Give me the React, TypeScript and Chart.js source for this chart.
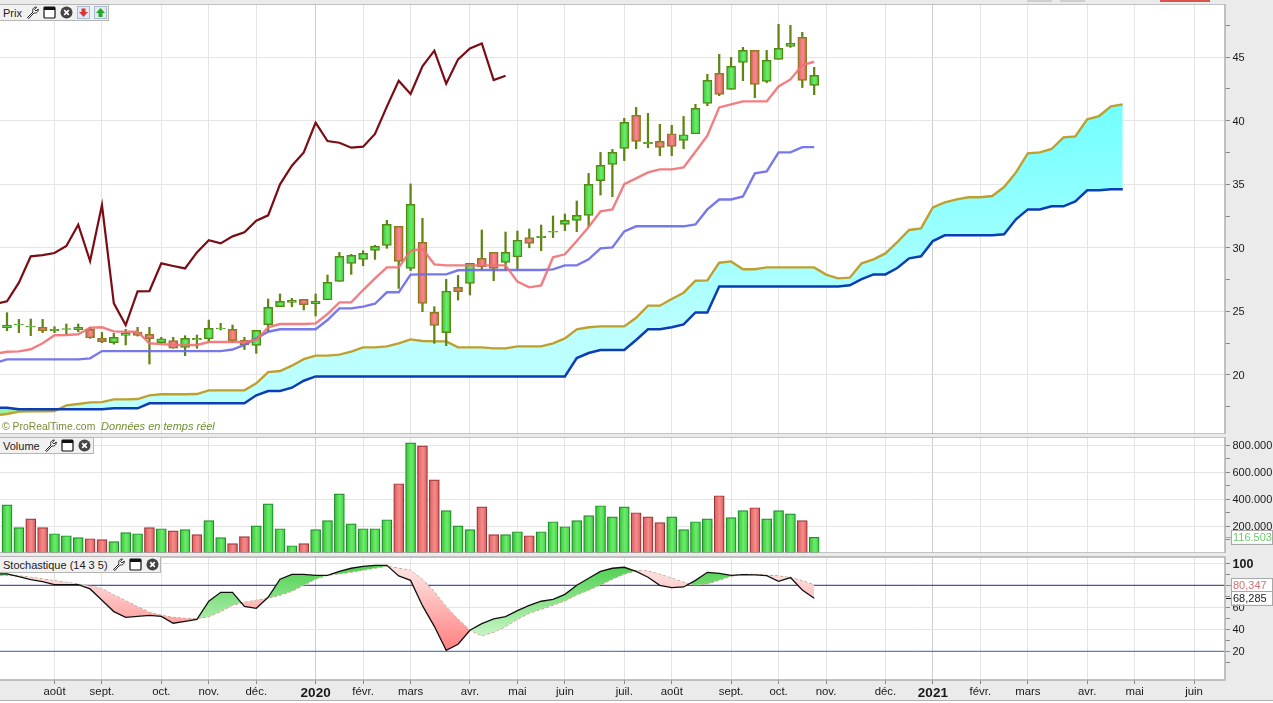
import React, { useEffect, useRef } from "react";
import { Chart, registerables } from "chart.js";

Chart.register(...registerables);

// Week index 0 is the first fully visible candle. One week per entry.
const candleOpen = [23.72,23.93,23.77,23.75,23.48,23.59,23.56,23.59,22.88,22.54,23.12,23.38,23.19,22.54,22.70,22.17,22.77,22.85,23.62,23.59,22.72,22.33,23.96,25.37,25.71,25.95,25.61,25.92,27.36,28.78,29.09,29.80,30.19,31.69,28.38,30.43,24.92,23.33,26.89,27.2,29.17,29.64,28.86,29.3,30.8,30.8,31.22,31.84,32.16,32.55,35.28,36.56,37.82,40.41,38.19,38.37,38.97,38.45,38.97,41.36,43.72,42.46,44.58,45.52,43.09,44.82,45.84,46.55,42.77];
const candleClose = [23.93,24.01,23.85,23.48,23.59,23.64,23.75,22.93,22.62,22.96,23.27,23.12,22.85,22.85,22.10,22.88,22.88,23.67,23.69,22.70,22.36,23.51,25.32,25.79,25.89,25.53,25.79,27.28,29.33,29.41,29.56,30.11,31.84,28.93,33.42,25.63,23.90,26.58,26.55,28.78,28.52,28.38,29.64,30.59,30.35,30.9,31.29,32.16,32.55,34.99,36.48,37.5,39.86,38.37,38.29,37.9,37.98,38.89,40.96,43.17,42.06,44.27,45.52,42.85,44.74,45.68,46.07,43.17,43.56];
const candleHigh = [24.90,24.37,24.40,24.37,23.80,24.01,24.01,23.75,23.35,23.27,23.59,23.75,23.75,22.96,22.96,23.09,23.14,24.32,24.06,23.93,22.96,23.51,25.97,26.37,26.03,25.95,26.37,27.86,29.64,29.48,29.77,30.2,32.16,31.69,35.02,32.32,25.37,27.52,27.83,28.78,31.40,29.64,31.24,31.32,31.48,31.79,32.5,32.66,33.68,35.85,37.5,37.74,40.18,41.04,40.57,39.71,39.63,40.33,41.28,43.64,45.21,44.97,45.76,45.52,45.52,47.57,47.49,46.94,44.19];
const candleLow = [23.48,23.33,23.09,23.33,23.33,23.14,23.40,22.88,22.54,22.43,22.36,23.06,20.86,22.49,22.10,21.52,22.10,22.62,23.54,22.54,22.0,21.70,23.40,25.37,25.37,25.11,24.64,25.92,27.36,27.91,28.59,29.09,29.96,26.81,28.2,24.98,22.49,22.30,25.89,26.29,28.25,27.41,28.25,28.25,30.0,29.77,30.8,31.35,31.27,31.66,34.15,34.02,36.85,37.79,37.87,37.24,37.24,37.79,38.97,41.17,41.96,42.46,43.14,41.8,42.98,44.82,45.76,42.6,42.04];

// The following line series start one week earlier (week -1), clipped by the left edge.
const tenkan = [21.65,21.83,21.86,22.02,22.49,23.12,23.14,23.20,23.72,23.75,23.43,23.40,23.40,22.49,22.43,22.38,22.36,22.36,22.59,22.59,22.59,22.59,22.75,23.75,24.01,24.01,24.01,24.06,24.79,25.71,25.71,26.68,27.6,28.46,28.46,29.77,29.93,28.7,28.62,28.62,28.62,28.62,28.62,28.62,27.34,26.89,27.05,29.25,29.49,30.53,31.64,32.87,33.02,35.0,35.46,35.93,36.17,36.17,36.32,37.56,38.81,41.04,41.28,41.51,41.51,41.51,42.69,43.24,44.37,44.63];
const kijun = [20.95,21.23,21.23,21.23,21.23,21.23,21.23,21.23,21.31,21.88,21.88,21.88,21.88,21.88,21.88,21.88,21.88,21.88,21.88,21.88,22.0,22.36,22.88,23.40,23.6,23.6,23.6,23.6,24.32,25.24,25.24,25.37,25.6,26.5,26.5,27.89,27.91,27.91,27.91,28.23,28.25,28.25,28.25,28.25,28.25,28.25,28.25,28.3,28.62,28.62,29.09,29.96,30.03,31.29,31.69,31.69,31.69,31.69,31.69,31.84,33.02,33.8,33.8,34.04,35.85,36.0,37.5,37.5,37.92,37.92];
const chikou = [25.58,25.79,27.26,29.33,29.43,29.59,30.14,31.82,28.96,33.36,25.63,23.93,26.57,26.6,28.78,28.57,28.38,29.64,30.59,30.35,30.9,31.22,32.13,32.55,34.99,36.45,37.5,39.84,38.39,38.26,37.87,37.95,38.95,41.1,43.14,42.09,44.27,45.5,42.9,44.82,45.68,46.07,43.19,43.53];
const senkouA = [16.83,16.93,17.12,17.14,17.14,17.17,17.61,17.72,17.85,17.87,18.08,18.08,18.11,18.4,18.48,18.48,18.48,18.5,18.79,18.79,18.79,18.79,19.34,20.23,20.31,20.73,21.25,21.52,21.52,21.6,21.83,22.17,22.17,22.25,22.49,22.8,22.67,22.64,22.64,22.17,22.17,22.17,22.09,22.09,22.25,22.25,22.25,22.49,22.88,23.59,23.75,23.82,23.82,23.82,24.5,25.45,25.45,25.97,26.47,27.41,27.44,28.83,28.93,28.31,28.31,28.46,28.46,28.46,28.46,28.46,27.89,27.6,27.65,28.78,29.09,29.56,30.45,31.4,31.53,33.18,33.57,33.81,33.97,33.97,34.07,34.78,35.93,37.43,37.5,37.77,38.68,38.76,40.1,40.36,41.12,41.28];
const senkouB = [17.43,17.43,17.3,17.3,17.3,17.3,17.3,17.3,17.3,17.3,17.38,17.38,17.38,17.77,17.77,17.77,17.77,17.77,17.77,17.77,17.77,17.77,18.4,18.74,18.74,19.0,19.55,19.89,19.89,19.89,19.89,19.89,19.89,19.89,19.89,19.89,19.89,19.89,19.89,19.89,19.89,19.89,19.89,19.89,19.89,19.89,19.89,19.89,19.89,21.33,21.73,21.96,21.96,21.96,22.75,23.59,23.59,23.75,23.98,24.92,24.92,26.95,26.95,26.95,26.95,26.95,26.95,26.95,26.95,26.95,26.95,26.95,27.05,27.54,27.91,27.91,28.41,29.17,29.33,30.53,30.98,30.98,30.98,30.98,30.98,31.06,32.24,33.02,33.02,33.26,33.26,33.65,34.52,34.52,34.6,34.6];

const volume = [358000,188000,254000,188000,143000,128000,114000,106000,99000,84000,151000,143000,188000,180000,165000,173000,136000,240000,114000,69000,121000,202000,365000,180000,54000,69000,173000,240000,439000,217000,180000,180000,247000,514000,817000,795000,543000,314000,202000,173000,343000,136000,136000,158000,128000,158000,232000,195000,240000,277000,351000,269000,343000,299000,269000,225000,269000,173000,232000,254000,425000,262000,314000,336000,254000,314000,291000,240000,116503];
const volumeDown = [2,3,7,8,12,14,16,19,20,25,33,35,36,40,41,44,53,54,55,60,63,67];

// Stochastic series also start at week -1.
const stochK = [90.6,90.3,87.9,85.2,83.3,80.6,80.6,80.6,76.7,66.4,56.1,50.9,51.8,52.7,51.8,45.5,47.3,49.1,65.5,73.6,73.6,60.9,59.1,69.1,85.5,90,90,89.1,89.1,92.7,95.5,97.3,98.2,98.2,88.5,84.5,61.5,42.7,20.9,26.4,39.1,45.2,49.4,51.5,57,61.8,65.5,67.3,71.8,80,86.4,92.7,95.5,96.4,92.7,87.3,80,77.9,78.5,84.5,91.8,90.9,89.1,89.7,89.4,88.8,83.6,87,75.8,68.285];
const stochD = [88.6,89,88.5,87.3,85.8,84.2,82.7,81.2,79.4,77,71.2,66,60.6,55.5,52.7,50.9,50,49.7,51.5,56.1,61.8,64.5,66.4,68.2,70.9,74.5,80,85.5,89.1,90.3,91.8,93.6,95.5,97.3,95.5,93.6,85.5,74.2,60.6,49.4,39.1,34.2,37.3,42.4,49.1,54.5,58.2,61.8,65.8,71.2,75.5,80.3,85.5,90,93.3,93,90,86.4,82.7,80,81.2,84.5,88.2,90,90,89.1,88.5,87,84.2,80.347];
const stochLevels = [80, 20];

const tickWeeks = [4,8,13,17,21,26,30,34,39,43,47,52,56,61,65,69,74,78,82,86,91,95,100];
const tickLabels = ["août","sept.","oct.","nov.","déc.","2020","févr.","mars","avr.","mai","juin","juil.","août","sept.","oct.","nov.","déc.","2021","févr.","mars","avr.","mai","juin"];
const yearWeeks = [26, 78];

const priceMajor = [20,25,30,35,40,45];
const priceMinor = [17.5,22.5,27.5,32.5,37.5,42.5,47.5];
const volumeMajor = [200000,400000,600000,800000];
const volumeMinor = [100000,300000,500000,700000];
const stochMajor = [20,40,60,100];
const stochMinor = [10,30,50,70,90];

const FONT = '"Liberation Sans", Arial, sans-serif';
const X_MIN = -0.59, X_MAX = 102.61;
const GREEN_STOPS = ["#36c436", "#6cec6c", "#40d040"];
const RED_STOPS = ["#dc5c5c", "#f68c8c", "#d85a5a"];

const series = (arr: number[], first = -1) => arr.map((y, i) => ({ x: i + first, y }));

const hGrad = (pick: (i: number) => string[], w: number) => (ctx: any) => {
  if (ctx.type !== "data" || !ctx.raw) return "#888888";
  const stops = pick(ctx.dataIndex);
  const px = ctx.chart.scales.x.getPixelForValue(ctx.raw.x);
  if (!Number.isFinite(px)) return stops[1];
  const g = ctx.chart.ctx.createLinearGradient(px - w / 2, 0, px + w / 2, 0);
  g.addColorStop(0, stops[0]);
  g.addColorStop(0.55, stops[1]);
  g.addColorStop(1, stops[2]);
  return g;
};

const xScale = (showTicks: boolean) => ({
  type: "linear",
  min: X_MIN,
  max: X_MAX,
  offset: false,
  afterBuildTicks: (s: any) => { s.ticks = tickWeeks.map((value) => ({ value })); },
  afterFit: (s: any) => { s.height = showTicks ? 21 : 0; s.paddingLeft = 0; s.paddingRight = 0; },
  border: { display: false },
  grid: {
    offset: false,
    color: (c: any) => (yearWeeks.includes(c.tick?.value) ? "#cdcdcd" : "#e5e5e5"),
    tickColor: "#8a8a8a",
    drawTicks: showTicks,
    tickLength: 4,
  },
  ticks: {
    display: showTicks,
    autoSkip: false,
    maxRotation: 0,
    padding: 1,
    color: "#1a1a1a",
    font: (c: any) => (yearWeeks.includes(c.tick?.value)
      ? { family: FONT, size: 13.5, weight: "bold" }
      : { family: FONT, size: 11.4 }),
    callback: (_v: any, i: number) => tickLabels[i],
  },
});

const yScale = (min: number, max: number, major: number[], minor: number[], fmt: (v: number) => string, boldTop?: number) => ({
  type: "linear",
  position: "right",
  min,
  max,
  afterBuildTicks: (s: any) => { s.ticks = [...major, ...minor].sort((a, b) => a - b).map((value) => ({ value })); },
  afterFit: (s: any) => { s.width = 48; s.paddingTop = 0; s.paddingBottom = 0; },
  border: { display: false },
  grid: {
    color: (c: any) => (major.includes(c.tick?.value) ? "#e5e5e5" : "rgba(0,0,0,0)"),
    tickColor: "#8a8a8a",
    tickLength: 5,
  },
  ticks: {
    autoSkip: false,
    padding: 2.5,
    labelOffset: 1,
    color: "#1a1a1a",
    font: (c: any) => (c.tick?.value === boldTop
      ? { family: FONT, size: 12.5, weight: "bold" }
      : { family: FONT, size: 11 }),
    callback: (v: number) => (major.includes(v) ? fmt(v) : ""),
  },
});

const framePlugin = {
  id: "frame",
  beforeDraw(chart: any) {
    const { ctx, chartArea: a } = chart;
    ctx.save();
    ctx.fillStyle = "#ffffff";
    ctx.fillRect(a.left, a.top, a.right - a.left, a.bottom - a.top);
    ctx.restore();
  },
  afterDraw(chart: any) {
    const { ctx, chartArea: a } = chart;
    ctx.save();
    ctx.strokeStyle = "#b0b0b0";
    ctx.lineWidth = 1.5;
    ctx.beginPath();
    ctx.moveTo(a.left, a.top);
    ctx.lineTo(a.right, a.top);
    ctx.lineTo(a.right, a.bottom);
    ctx.lineTo(a.left, a.bottom);
    ctx.stroke();
    ctx.restore();
  },
};

const tagPlugin = (tags: { value: number; text: string; color: string }[]) => ({
  id: "tags",
  afterDraw(chart: any) {
    const { ctx, chartArea: a, scales } = chart;
    ctx.save();
    ctx.font = `11px ${FONT}`;
    ctx.textBaseline = "middle";
    for (const t of tags) {
      const y = Math.round(scales.y.getPixelForValue(t.value));
      ctx.strokeStyle = t.color;
      ctx.lineWidth = 1;
      ctx.beginPath();
      ctx.moveTo(a.right + 1, y + 0.5);
      ctx.lineTo(a.right + 6, y + 0.5);
      ctx.stroke();
      ctx.fillStyle = "#ffffff";
      ctx.fillRect(a.right + 6, y - 6.5, 41, 13);
      ctx.strokeStyle = "#a8a8a8";
      ctx.strokeRect(a.right + 6.5, y - 6.5, 41, 14);
      ctx.fillStyle = t.color;
      ctx.fillText(t.text, a.right + 8, y + 1);
    }
    ctx.restore();
  },
});

const baseOptions = (x: any, y: any, padTop = 0) => ({
  responsive: false,
  animation: false,
  devicePixelRatio: 1,
  layout: { autoPadding: false, padding: { top: padTop, left: 0, right: 0, bottom: 0 } },
  plugins: { legend: { display: false }, tooltip: { enabled: false } },
  scales: { x, y },
});

const line = (label: string, data: any[], color: string, width: number, order: number, extra: any = {}) => ({
  type: "line",
  label,
  data,
  borderColor: color,
  borderWidth: width,
  pointRadius: 0,
  tension: 0,
  fill: false,
  order,
  ...extra,
});

function Icon({ kind }: { kind: string }) {
  const common = { width: 13, height: 13, viewBox: "0 0 13 13", style: { marginLeft: 4, flex: "none" } };
  if (kind === "wrench")
    return (
      <svg {...common}>
        <path d="M1.5 11.5 L7 6 C6 3.5 7.5 1 10.5 1 L8.5 3.5 L10 5 L12.2 3 C12.5 6 10 7.8 8 6.8 L2.8 12.5 Z" fill="#fff" stroke="#222" strokeWidth="1" />
      </svg>
    );
  if (kind === "window")
    return (
      <svg {...common}>
        <rect x="1" y="1" width="11" height="11" rx="1" fill="#fff" stroke="#111" strokeWidth="1.2" />
        <rect x="1" y="1" width="11" height="3" fill="#111" />
      </svg>
    );
  if (kind === "close")
    return (
      <svg {...common}>
        <circle cx="6.5" cy="6.5" r="6" fill="#444" />
        <path d="M4.2 4.2 L8.8 8.8 M8.8 4.2 L4.2 8.8" stroke="#fff" strokeWidth="1.7" />
      </svg>
    );
  const color = kind === "down" ? "#d8383c" : "#2aa52a";
  const arrow = kind === "down" ? "M4.5 2.5 H8.5 V6 H11 L6.5 11 L2 6 H4.5 Z" : "M6.5 2 L11 7 H8.5 V11 H4.5 V7 H2 Z";
  return (
    <svg {...common}>
      <rect x="0.5" y="0.5" width="12" height="12" fill="#dfeaf5" stroke="#a9bccf" />
      <path d={arrow} fill={color} />
    </svg>
  );
}

function Header({ top, width, label, icons }: { top: number; width: number; label: string; icons: string[] }) {
  return (
    <div
      style={{
        position: "absolute", left: 0, top, width, height: 17, boxSizing: "border-box",
        background: "#f1f1f1", border: "1px solid #b5b5b5", borderLeft: "none",
        display: "flex", alignItems: "center", paddingLeft: 3,
        font: `11px ${FONT}`, color: "#222", whiteSpace: "nowrap",
      }}
    >
      <span>{label}</span>
      {icons.map((k, i) => <Icon key={i} kind={k} />)}
    </div>
  );
}

export default function App() {
  const priceRef = useRef<HTMLCanvasElement>(null);
  const volumeRef = useRef<HTMLCanvasElement>(null);
  const stochRef = useRef<HTMLCanvasElement>(null);

  useEffect(() => {
    const pc = priceRef.current!.getContext("2d")!;
    const cloud = pc.createLinearGradient(0, 96, 0, 330);
    cloud.addColorStop(0, "#70ffff");
    cloud.addColorStop(1, "#bcffff");
    const isDown = (i: number) => candleClose[i] < candleOpen[i];

    const price = new Chart(priceRef.current!, {
      type: "bar",
      data: {
        datasets: [
          line("Senkou B", series(senkouB), "#0b3db5", 2.5, 7),
          line("Senkou A", series(senkouA), "#bf9f2e", 2.4, 8, {
            fill: { target: 0, above: cloud, below: "#9cf09c" },
          }),
          {
            type: "bar", label: "Range", order: 6, grouped: false, barThickness: 1.6,
            data: candleHigh.map((h, i) => ({ x: i, y: [candleLow[i], h] })),
            backgroundColor: "#5f8412",
          },
          {
            type: "bar", label: "Body", order: 5, grouped: false, barThickness: 9,
            data: candleOpen.map((o, i) => ({ x: i, y: [o, candleClose[i]] })),
            backgroundColor: hGrad((i) => (isDown(i) ? RED_STOPS : GREEN_STOPS), 9),
            borderColor: (c: any) => (isDown(c.dataIndex) ? "#8f7a1f" : "#558a12"),
            borderWidth: 1.4,
            borderSkipped: false,
          },
          line("Chikou", series(chikou), "#7a0d14", 2.2, 4),
          line("Kijun", series(kijun), "rgba(105,105,235,0.9)", 2.4, 3),
          line("Tenkan", series(tenkan), "rgba(241,112,116,0.9)", 2.4, 2),
        ],
      } as any,
      options: baseOptions(xScale(false), yScale(15.36, 49.17, priceMajor, priceMinor, (v) => String(v))) as any,
      plugins: [framePlugin],
    });

    const vol = new Chart(volumeRef.current!, {
      type: "bar",
      data: {
        datasets: [
          {
            label: "Volume", barThickness: 10,
            data: series(volume, 0),
            backgroundColor: hGrad((i) => (volumeDown.includes(i) ? RED_STOPS : GREEN_STOPS), 10),
            borderColor: (c: any) => (volumeDown.includes(c.dataIndex) ? "#9c3535" : "#1f8a2a"),
            borderWidth: 1.2,
            borderSkipped: false,
          },
        ],
      } as any,
      options: baseOptions(
        xScale(false),
        yScale(0, 861000, volumeMajor, volumeMinor, (v) => `${v / 1000}.000`),
      ) as any,
      plugins: [
        framePlugin,
        tagPlugin([{ value: volume[volume.length - 1], text: "116.503", color: "#6ccb6c" }]),
      ],
    });

    const sc = stochRef.current!.getContext("2d")!;
    const up = sc.createLinearGradient(0, 10, 0, 80);
    up.addColorStop(0, "#4fd14f");
    up.addColorStop(1, "#c6f5c6");
    const down = sc.createLinearGradient(0, 20, 0, 95);
    down.addColorStop(0, "#ffdcdc");
    down.addColorStop(1, "#ff7e7e");

    const stoch = new Chart(stochRef.current!, {
      type: "line",
      data: {
        datasets: [
          line("%K", series(stochK), "#111111", 1.3, 1, {
            fill: { target: 1, above: up, below: down },
          }),
          line("%D", series(stochD), "#c58a85", 1, 2, { borderDash: [3, 2] }),
          line("Haut", [{ x: X_MIN, y: stochLevels[0] }, { x: X_MAX, y: stochLevels[0] }], "#25258f", 1, 3),
          line("Bas", [{ x: X_MIN, y: stochLevels[1] }, { x: X_MAX, y: stochLevels[1] }], "#3565b5", 1, 3),
        ],
      } as any,
      options: baseOptions(
        xScale(true),
        yScale(-6.09, 105.73, stochMajor, stochMinor, (v) => String(v), 100),
        1,
      ) as any,
      plugins: [
        framePlugin,
        tagPlugin([
          { value: stochD[stochD.length - 1], text: "80,347", color: "#d46f6f" },
          { value: stochK[stochK.length - 1], text: "68,285", color: "#222222" },
        ]),
      ],
    });

    return () => { price.destroy(); vol.destroy(); stoch.destroy(); };
  }, []);

  const abs = (top: number): React.CSSProperties => ({ position: "absolute", left: 0, top, display: "block" });

  return (
    <div style={{ position: "fixed", left: 0, top: 0, width: 1273, height: 703, background: "#ebebeb", overflow: "hidden" }}>
      <canvas ref={priceRef} width={1273} height={430} style={{ ...abs(4), width: 1273, height: 430 }} />
      <canvas ref={volumeRef} width={1273} height={116} style={{ ...abs(437), width: 1273, height: 116 }} />
      <canvas ref={stochRef} width={1273} height={145} style={{ ...abs(556), width: 1273, height: 145 }} />
      <div style={{ position: "absolute", left: 1027, top: 0, width: 25, height: 2, background: "#cfcfcf" }} />
      <div style={{ position: "absolute", left: 1060, top: 0, width: 25, height: 2, background: "#cfcfcf" }} />
      <div style={{ position: "absolute", left: 1160, top: 0, width: 50, height: 2, background: "#d9534f" }} />
      <Header top={4} width={109} label="Prix" icons={["wrench", "window", "close", "down", "up"]} />
      <Header top={437} width={94} label="Volume" icons={["wrench", "window", "close"]} />
      <Header top={556} width={161} label="Stochastique (14 3 5)" icons={["wrench", "window", "close"]} />
      <div style={{ position: "absolute", left: 2, top: 420, font: `10.4px ${FONT}`, color: "#7c8b3c", whiteSpace: "pre" }}>
        © ProRealTime.com  <i style={{ fontSize: 11, color: "#6f8f2f" }}>Données en temps réel</i>
      </div>
      <div style={{ position: "absolute", left: 0, top: 700, width: 1273, height: 1, background: "#b0b0b0" }} />
      <div style={{ position: "absolute", left: 0, top: 701, width: 1273, height: 2, background: "#ffffff" }} />
    </div>
  );
}
